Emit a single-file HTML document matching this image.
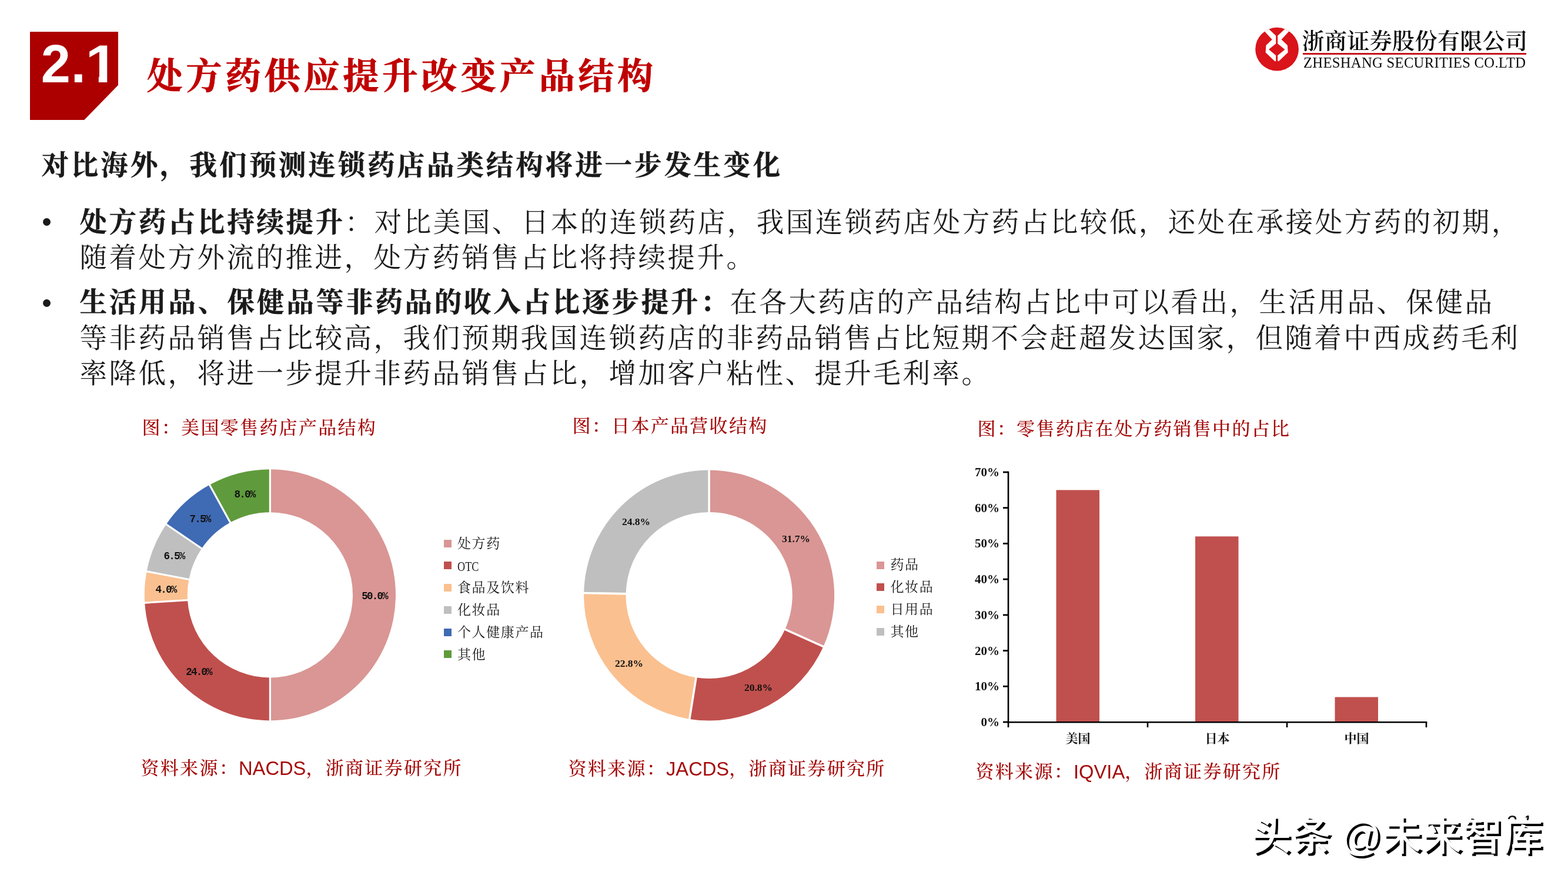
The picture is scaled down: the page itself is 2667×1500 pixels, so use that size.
<!DOCTYPE html>
<html lang="zh-CN">
<head>
<meta charset="utf-8">
<title>处方药供应提升改变产品结构</title>
<style>
html,body{margin:0;padding:0;background:#fff}
body{width:2667px;height:1500px;position:relative;overflow:hidden;font-family:'Liberation Serif','Noto Serif CJK SC',serif;color:#1a1a1a}
.t{position:absolute;white-space:nowrap;line-height:1;margin:0;padding:0}
.kai{font-family:'Liberation Serif','Noto Serif CJK SC',serif}
.body{font-size:46.5px;letter-spacing:3.5px;color:#1a1a1a;font-weight:400}
.body b,.b{font-weight:700;-webkit-text-stroke:0.5px #1a1a1a}
.body b{letter-spacing:3.66px}
.cap{font-size:31px;letter-spacing:2.3px;color:#a50a0a;font-weight:500}
.src{font-size:31px;letter-spacing:2.3px;color:#a50a0a;font-weight:500}
.src .en{font-family:'Liberation Sans','Noto Sans CJK SC',sans-serif;font-size:32.7px;letter-spacing:0;font-weight:400;position:relative;top:1px}
.leg{font-size:23px;letter-spacing:1.6px;color:#1a1a1a}
.leg .m{display:inline-block;font-family:'Liberation Serif',serif;font-size:24px;letter-spacing:0;transform:scaleX(0.76);transform-origin:0 50%}
.sq{position:absolute;width:13px;height:13px}
svg{position:absolute;left:0;top:0;overflow:visible}
.mono{font-family:'Liberation Mono',monospace !important;letter-spacing:-1.8px}
svg text{font-family:'Liberation Serif','Noto Serif CJK SC',serif;font-weight:700;fill:#111}
</style>
</head>
<body>
<div style="position:absolute;left:51px;top:54px;width:150px;height:150px;background:#ac0000;clip-path:polygon(0 0,100% 0,100% 60.5%,61.5% 100%,0 100%)"></div>
<div class="t" id="num" style="left:69.8px;top:64.2px;font-family:'Liberation Sans',sans-serif;font-weight:700;font-size:90px;color:#fff">2<span style="margin-left:0.8px">.</span><span style="display:inline-block;margin-left:0.6px;clip-path:polygon(0 0,33px 0,33px 90px,20px 90px,20px 62px,0 62px);transform:scaleX(1.13);transform-origin:6px 50%">1</span></div>
<h1 class="t" id="title" style="left:249.7px;top:100px;font-size:61px;letter-spacing:5.7px;font-weight:700;-webkit-text-stroke:0.8px #c00000;color:#c00000">处方药供应提升改变产品结构</h1>
<svg width="2667" height="1500" viewBox="0 0 2667 1500" style="z-index:1">
<defs><clipPath id="lc"><circle cx="717" cy="745" r="628"/></clipPath></defs>
<g transform="translate(2130 40) scale(0.05866)">
<circle cx="717" cy="745" r="628" fill="#d9141a"/>
<g clip-path="url(#lc)">
<polygon fill="#fff" points="230,95 350,223 575,465 400,630 385,840 650,1090 770,1090 1035,840 1020,630 845,465 1070,223 1190,95"/>
<polygon fill="#d9141a" points="440,60 994,60 942,160 736,352 736,585 945,755 736,925 736,1100 686,1100 686,925 478,752 686,585 686,352 482,160"/>
</g>
</g>
</svg>
<div class="t" id="lcn" style="left:2214.5px;top:51px;font-family:'Liberation Serif','Noto Serif CJK SC',serif;font-weight:600;font-size:38px;color:#0a0a0a;letter-spacing:0.4px">浙商证券股份有限公司</div>
<div style="position:absolute;left:2216px;top:89.5px;width:380px;height:3.5px;background:#c4161c"></div>
<div class="t" id="len" style="left:2217px;top:95px;font-family:'Liberation Serif','Noto Serif CJK SC',serif;font-size:24.6px;color:#0a0a0a;letter-spacing:0.32px">ZHESHANG SECURITIES CO.LTD</div>
<h2 class="t body b" id="h2" style="left:70.4px;top:258.63px;letter-spacing:3.93px">对比海外，我们预测连锁药店品类结构将进一步发生变化</h2>
<div style="position:absolute;left:73px;top:371px;width:13px;height:13px;border-radius:50%;background:#1a1a1a"></div>
<div style="position:absolute;left:73px;top:508.5px;width:13px;height:13px;border-radius:50%;background:#1a1a1a"></div>
<p class="t body" id="l1" style="left:135.40px;top:356.38px"><b>处方药占比持续提升</b>：对比美国、日本的连锁药店，我国连锁药店处方药占比较低，还处在承接处方药的初期，</p>
<p class="t body" id="l2" style="left:135.40px;top:416.38px">随着处方外流的推进，处方药销售占比将持续提升。</p>
<p class="t body" id="l3" style="left:135.40px;top:492.38px"><b style="letter-spacing:3.78px">生活用品、保健品等非药品的收入占比逐步提升：</b>在各大药店的产品结构占比中可以看出，生活用品、保健品</p>
<p class="t body" id="l4" style="left:135.40px;top:552.88px">等非药品销售占比较高，我们预期我国连锁药店的非药品销售占比短期不会赶超发达国家，但随着中西成药毛利</p>
<p class="t body" id="l5" style="left:135.40px;top:613.08px">率降低，将进一步提升非药品销售占比，增加客户粘性、提升毛利率。</p>
<div class="t cap" id="c1" style="left:241.5px;top:711.7px">图：美国零售药店产品结构</div>
<div class="t cap" id="c2" style="left:973.5px;top:709px">图：日本产品营收结构</div>
<div class="t cap" id="c3" style="left:1662.5px;top:713.7px">图：零售药店在处方药销售中的占比</div>
<div class="t src" id="s1" style="left:239.5px;top:1290px">资料来源：<span class="en">NACDS</span>，浙商证券研究所</div>
<div class="t src" id="s2" style="left:966.5px;top:1291px">资料来源：<span class="en">JACDS</span>，浙商证券研究所</div>
<div class="t src" id="s3" style="left:1659.5px;top:1296px">资料来源：<span class="en">IQVIA</span>，浙商证券研究所</div>
<svg width="2667" height="1500" viewBox="0 0 2667 1500">
<path d="M459.40 798.20A213.6 213.6 0 0 1 459.40 1225.40L459.40 1152.40A140.6 140.6 0 0 0 459.40 871.20Z" fill="#d99694"/>
<path d="M459.40 1225.40A213.6 213.6 0 0 1 246.22 1025.21L319.08 1020.63A140.6 140.6 0 0 0 459.40 1152.40Z" fill="#c0504d"/>
<path d="M246.22 1025.21A213.6 213.6 0 0 1 249.58 971.78L321.29 985.45A140.6 140.6 0 0 0 319.08 1020.63Z" fill="#fac090"/>
<path d="M249.58 971.78A213.6 213.6 0 0 1 282.74 891.74L343.11 932.77A140.6 140.6 0 0 0 321.29 985.45Z" fill="#bfbfbf"/>
<path d="M282.74 891.74A213.6 213.6 0 0 1 356.50 824.62L391.67 888.59A140.6 140.6 0 0 0 343.11 932.77Z" fill="#3f6ab4"/>
<path d="M356.50 824.62A213.6 213.6 0 0 1 459.40 798.20L459.40 871.20A140.6 140.6 0 0 0 391.67 888.59Z" fill="#5f9b3c"/>
<path d="M459.40 874.20L459.40 795.20M459.40 1149.40L459.40 1228.40M322.07 1020.44L243.23 1025.40M324.24 986.02L246.64 971.21M345.59 934.46L280.25 890.05M393.11 891.22L355.05 821.99" stroke="#fff" stroke-width="3.2" fill="none"/>
<path d="M1206.10 799.50A213.0 213.0 0 0 1 1400.50 1099.54L1335.34 1070.36A141.6 141.6 0 0 0 1206.10 870.90Z" fill="#d99694"/>
<path d="M1400.50 1099.54A213.0 213.0 0 0 1 1172.78 1222.88L1183.95 1152.36A141.6 141.6 0 0 0 1335.34 1070.36Z" fill="#c0504d"/>
<path d="M1172.78 1222.88A213.0 213.0 0 0 1 993.14 1008.49L1064.53 1009.83A141.6 141.6 0 0 0 1183.95 1152.36Z" fill="#fac090"/>
<path d="M993.14 1008.49A213.0 213.0 0 0 1 1206.10 799.50L1206.10 870.90A141.6 141.6 0 0 0 1064.53 1009.83Z" fill="#bfbfbf"/>
<path d="M1206.10 873.90L1206.10 796.50M1332.60 1069.14L1403.24 1100.77M1184.42 1149.39L1172.31 1225.84M1067.52 1009.89L990.14 1008.43" stroke="#fff" stroke-width="3.6" fill="none"/>
<text x="637" y="1019" font-size="17.5" text-anchor="middle" class="mono">50.0%</text>
<text x="338" y="1148" font-size="17.5" text-anchor="middle" class="mono">24.0%</text>
<text x="282" y="1008" font-size="17.5" text-anchor="middle" class="mono">4.0%</text>
<text x="296" y="951" font-size="17.5" text-anchor="middle" class="mono">6.5%</text>
<text x="340" y="888" font-size="17.5" text-anchor="middle" class="mono">7.5%</text>
<text x="416" y="846" font-size="17.5" text-anchor="middle" class="mono">8.0%</text>
<text x="1354" y="922" font-size="17.5" text-anchor="middle">31.7%</text>
<text x="1290" y="1175" font-size="17.5" text-anchor="middle">20.8%</text>
<text x="1070" y="1134" font-size="17.5" text-anchor="middle">22.8%</text>
<text x="1082" y="893" font-size="17.5" text-anchor="middle">24.8%</text>
<rect x="1796.5" y="833.4" width="73.5" height="394.6" fill="#c0504d"/>
<rect x="2033" y="912.3" width="73.5" height="315.7" fill="#c0504d"/>
<rect x="2270.5" y="1185.5" width="73.5" height="42.5" fill="#c0504d"/>
<path d="M1715 801.7V1228.3H2427.3" fill="none" stroke="#000" stroke-width="2.6"/>
<path d="M1706 1228.0H1715" stroke="#000" stroke-width="2.8"/>
<text x="1700" y="1235.0" font-size="21" text-anchor="end">0%</text>
<path d="M1706 1167.3H1715" stroke="#000" stroke-width="2.8"/>
<text x="1700" y="1174.3" font-size="21" text-anchor="end">10%</text>
<path d="M1706 1106.6H1715" stroke="#000" stroke-width="2.8"/>
<text x="1700" y="1113.6" font-size="21" text-anchor="end">20%</text>
<path d="M1706 1045.9H1715" stroke="#000" stroke-width="2.8"/>
<text x="1700" y="1052.9" font-size="21" text-anchor="end">30%</text>
<path d="M1706 985.1H1715" stroke="#000" stroke-width="2.8"/>
<text x="1700" y="992.1" font-size="21" text-anchor="end">40%</text>
<path d="M1706 924.4H1715" stroke="#000" stroke-width="2.8"/>
<text x="1700" y="931.4" font-size="21" text-anchor="end">50%</text>
<path d="M1706 863.7H1715" stroke="#000" stroke-width="2.8"/>
<text x="1700" y="870.7" font-size="21" text-anchor="end">60%</text>
<path d="M1706 803.0H1715" stroke="#000" stroke-width="2.8"/>
<text x="1700" y="810.0" font-size="21" text-anchor="end">70%</text>
<path d="M1715.0 1228V1237" stroke="#000" stroke-width="2.6"/>
<path d="M1952.0 1228V1237" stroke="#000" stroke-width="2.6"/>
<path d="M2189.0 1228V1237" stroke="#000" stroke-width="2.6"/>
<path d="M2426.0 1228V1237" stroke="#000" stroke-width="2.6"/>
<text x="1833.5" y="1263" font-size="21" text-anchor="middle">美国</text>
<text x="2070.5" y="1263" font-size="21" text-anchor="middle">日本</text>
<text x="2307.5" y="1263" font-size="21" text-anchor="middle">中国</text>
</svg>
<div class="sq" style="left:755px;top:917.5px;background:#d99694"></div>
<div class="t leg" style="left:778px;top:912.9px">处方药</div>
<div class="sq" style="left:755px;top:955.2px;background:#c0504d"></div>
<div class="t leg" style="left:778px;top:950.6px"><span class="m">OTC</span></div>
<div class="sq" style="left:755px;top:993.0px;background:#fac090"></div>
<div class="t leg" style="left:778px;top:988.4px">食品及饮料</div>
<div class="sq" style="left:755px;top:1030.8px;background:#bfbfbf"></div>
<div class="t leg" style="left:778px;top:1026.2px">化妆品</div>
<div class="sq" style="left:755px;top:1068.5px;background:#3f6ab4"></div>
<div class="t leg" style="left:778px;top:1063.9px">个人健康产品</div>
<div class="sq" style="left:755px;top:1106.2px;background:#5f9b3c"></div>
<div class="t leg" style="left:778px;top:1101.7px">其他</div>
<div class="sq" style="left:1491px;top:954.5px;background:#d99694"></div>
<div class="t leg" style="left:1514.5px;top:949.4px">药品</div>
<div class="sq" style="left:1491px;top:992.2px;background:#c0504d"></div>
<div class="t leg" style="left:1514.5px;top:987.1px">化妆品</div>
<div class="sq" style="left:1491px;top:1029.9px;background:#fac090"></div>
<div class="t leg" style="left:1514.5px;top:1024.8px">日用品</div>
<div class="sq" style="left:1491px;top:1067.6px;background:#bfbfbf"></div>
<div class="t leg" style="left:1514.5px;top:1062.5px">其他</div>
<div class="t" id="pg" style="left:2563px;top:1382px;font-family:'Liberation Sans',sans-serif;font-size:33px;color:#111;clip-path:inset(0 0 21.5px 0)">2<span style="margin-left:8px">1</span></div>
<div class="t" id="wm" style="left:2128px;top:1388px;font-family:'Liberation Sans','Noto Sans CJK SC',sans-serif;font-size:68px;letter-spacing:0.6px;word-spacing:-4px;color:#fff;text-shadow:4px 4px 0 #000;font-weight:500">头条 @未来智库</div>
</body>
</html>
